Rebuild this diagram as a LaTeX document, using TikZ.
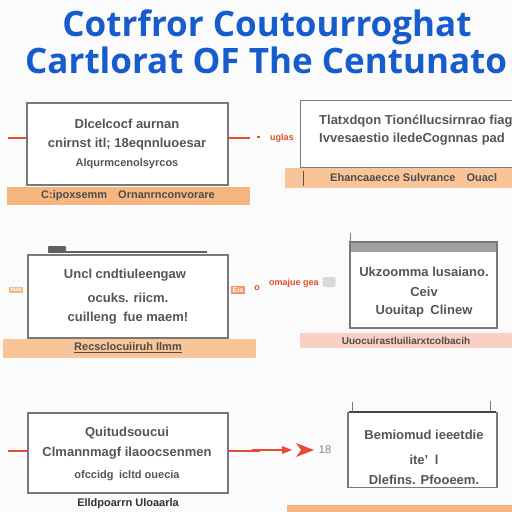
\documentclass[tikz,border=0pt]{standalone}
\usepackage{fontspec}
\setmainfont{Liberation Sans}
\newfontfamily\titlefont{Open Sans}
\definecolor{titleblue}{RGB}{22,92,205}
\definecolor{txtgray}{RGB}{85,85,85}
\definecolor{boxgray}{RGB}{120,120,120}
\definecolor{barorange}{RGB}{247,182,128}
\definecolor{barlight}{RGB}{249,196,152}
\definecolor{barpink}{RGB}{250,208,196}
\definecolor{linered}{RGB}{228,78,48}
\begin{document}
\begin{tikzpicture}[x=1pt,y=-1pt,
  boxtxt/.style={font=\bfseries\fontsize{13}{15}\selectfont, text=txtgray, inner sep=0pt},
  bartxt/.style={font=\bfseries\fontsize{11}{13}\selectfont, text=txtgray!90!black, inner sep=0pt},
  redtxt/.style={font=\bfseries\fontsize{9}{11}\selectfont, text=linered, inner sep=0pt},
  panel/.style={draw=boxgray, line width=1.3pt, fill=white, inner sep=0pt},
  redline/.style={draw=linered, line width=2.2pt}]
\useasboundingbox (0,0) rectangle (512,512);
\fill[white!97!gray] (0,0) rectangle (512,512);

% title
\node[font=\titlefont\bfseries\fontsize{35}{38}\selectfont, text=titleblue, inner sep=0pt, anchor=base] (t1) at (267,36) {Cotrfror Coutourroghat};
\node[font=\titlefont\bfseries\fontsize{35}{38}\selectfont, text=titleblue, inner sep=0pt, anchor=base west] (t2) at (25,73) {Cartlorat OF The Centunato};

% ---------- row 1 ----------
\fill[barorange] (7,187) rectangle (250,205);
\node[bartxt] (b1l) at (128,196) {C:ipoxsemm\quad Ornanrnconvorare};
\node[panel, minimum width=201pt, minimum height=82pt] (r1l) at (127.5,144) {};
\node[boxtxt] at (127,124) {Dlcelcocf aurnan};
\node[boxtxt] at (127,144) {cnirnst itl; 18eqnnluoesar};
\node[boxtxt, font=\bfseries\fontsize{11}{13}\selectfont] at (127,164) {Alqurmcenolsyrcos};
\coordinate (r1a) at (8,138);
\coordinate (r1b) at (250,138);
\draw[redline] (r1a) -- (r1l.west |- r1a);
\draw[redline] (r1l.east |- r1b) -- (r1b);
\draw[redline, line width=1.5pt] (257,137) -- (260,137);
\node[redtxt] (u1) at (282,138) {uglas};

\fill[barlight] (285,168) rectangle (512,188);
\draw[txtgray, line width=1pt] (303,171) -- (303,186);
\node[panel, minimum width=220pt, minimum height=67pt, anchor=north west] (r1r) at (300,100) {};
\node[bartxt, anchor=west] (b1r) at (330,178) {Ehancaaecce Sulvrance\quad Ouacl};
\node[boxtxt, anchor=west] at (319,121) {Tlatxdqon Tion\'cllucsirnrao fiag};
\node[boxtxt, anchor=west] at (319,139) {Ivvesaestio iledeCognnas pad};

% ---------- row 2 ----------
\fill[barlight] (3,339) rectangle (256,358);
\node[bartxt, font=\bfseries\fontsize{11}{13}\selectfont] (b2l) at (128,348) {\underline{Recsclocuiiruh Ilmm}};
\node[panel, minimum width=200pt, minimum height=83pt] (r2l) at (128,296.5) {};
\draw[boxgray!80!black, line width=2pt] (48,252) -- (207,252);
\fill[boxgray!80!black, rounded corners=1pt] (48,246) rectangle (66,251);
\node[boxtxt] at (125,275) {Uncl cndtiuleengaw};
\node[boxtxt] at (128,298) {ocuks. riicm.};
\node[boxtxt] at (128,318) {cuilleng\enspace fue maem!};
\node[fill=barorange, inner sep=1.5pt, font=\bfseries\fontsize{6}{7}\selectfont, text=white] (s2a) at (16,290) {nuo};
\node[fill=barorange!80!red, inner sep=1.5pt, font=\bfseries\fontsize{7}{8}\selectfont, text=white] (s2b) at (238,290) {Eia};
\node[redtxt] (o2) at (257,288) {o};

\fill[barpink] (300,333) rectangle (512,348);
\node[bartxt, font=\bfseries\fontsize{10}{12}\selectfont] (b2r) at (406,341) {Uuocuirastluiliarxtcolbacih};
\node[panel, minimum width=147pt, minimum height=86pt] (r2r) at (423.5,285) {};
\fill[boxgray!70] (351,243) rectangle (496,252);
\draw[boxgray, line width=1pt] (350,233) -- (350,243);
\node[boxtxt] at (424,272) {Ukzoomma lusaiano.};
\node[boxtxt] at (424,292) {Ceiv};
\node[boxtxt] at (424,311) {Uouitap\enspace Clinew};
\node[redtxt] (m2) at (294,283) {omajue gea};
\node[fill=gray!30, rounded corners=2pt, minimum width=13pt, minimum height=10pt, inner sep=0pt] (g2) at (329,282) {};

% ---------- row 3 ----------
\node[panel, minimum width=200pt, minimum height=80pt] (r3l) at (128,453) {};
\node[boxtxt] at (127,433) {Quitudsoucui};
\node[boxtxt] at (127,453) {Clmannmagf ilaoocsenmen};
\node[boxtxt, font=\bfseries\fontsize{11}{13}\selectfont] at (127,476) {ofccidg\enspace icltd ouecia};
\node[bartxt, font=\bfseries\fontsize{11}{13}\selectfont, text=txtgray!60!black] (b3l) at (128,504) {Elldpoarrn Uloaarla};
\coordinate (r3a) at (8,451);
\coordinate (r3b) at (260,451);
\draw[redline] (r3a) -- (r3l.west |- r3a);
\draw[redline] (r3l.east |- r3b) -- (r3b);

\fill[barorange] (287,505) rectangle (512,512);
\node[panel, minimum width=149pt, minimum height=75pt] (r3r) at (422.5,450) {};
\draw[txtgray!80!black, line width=2.5pt] (349,412) -- (496,412);
\draw[boxgray, line width=1pt] (352,402) -- (352,412) (490,401) -- (490,412);
\node[boxtxt] at (424,435) {Bemiomud ieeetdie};
\node[boxtxt] at (424,460) {ite'\enspace l};
\node[boxtxt] at (424,480) {Dlefins. Pfooeem.};
\node[font=\fontsize{11}{13}\selectfont, text=gray, inner sep=0pt] (n18) at (325,450) {18};
\coordinate (a3s) at (252,450);
\coordinate (a3e) at (314,450);
\draw[linered, line width=2pt] (a3s) -- (282,450);
\fill[linered] (282,446) -- (292,450) -- (282,454) -- cycle;
\fill[linered] (296,443) -- (314,450) -- (296,457) -- (301,450) -- cycle;
\end{tikzpicture}
\end{document}
